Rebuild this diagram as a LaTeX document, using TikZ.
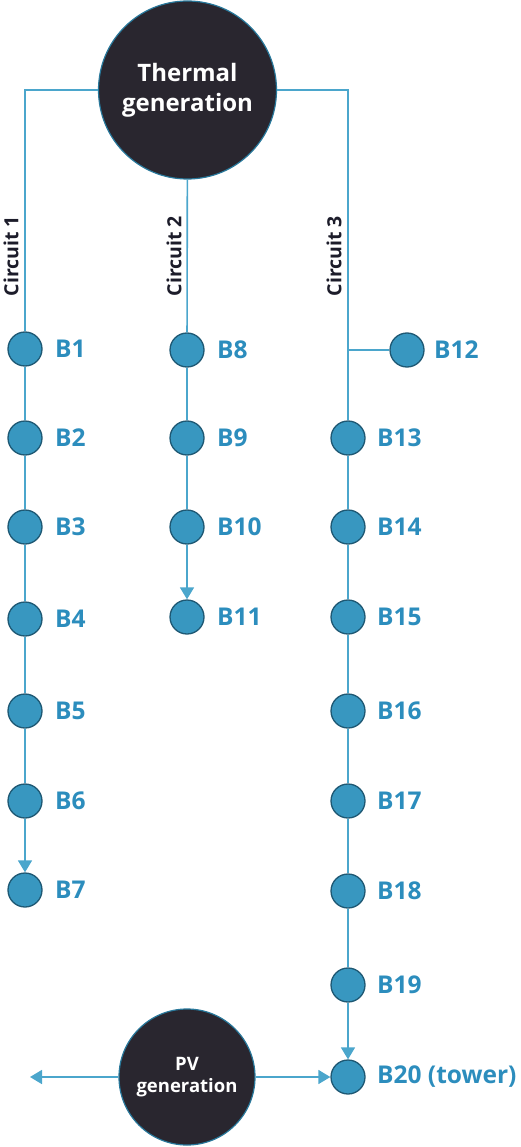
\documentclass[tikz,border=0pt]{standalone}
\usepackage{fontspec}
\setmainfont{Open Sans}
\usetikzlibrary{arrows.meta}
\definecolor{busfill}{RGB}{56,151,192}
\definecolor{busdraw}{RGB}{30,88,115}
\definecolor{wire}{RGB}{75,166,204}
\definecolor{bustext}{RGB}{44,141,189}
\definecolor{gen}{RGB}{41,38,47}
\definecolor{genedge}{RGB}{40,120,155}
\definecolor{cirtext}{RGB}{28,28,42}
\tikzset{
  bus/.style={circle,fill=busfill,draw=busdraw,line width=1.3pt,minimum size=34pt,inner sep=0pt},
  buslabel/.style={anchor=west,text=bustext,font=\fontsize{24.5}{26}\selectfont\bfseries,inner sep=0pt},
  genbox/.style={circle,fill=gen,draw=genedge,line width=1.2pt,inner sep=0pt,text=white,align=center},
  cirlabel/.style={rotate=90,text=cirtext,font=\fontsize{19.5}{21}\selectfont\bfseries,inner sep=0pt},
  wireline/.style={draw=wire,line width=1.6pt},
  arr/.style={wireline,-{Triangle[length=12pt,width=14pt]}},
}
\begin{document}
\begin{tikzpicture}[x=1pt,y=-1pt]
\useasboundingbox (0,0) rectangle (520,1147);
% generators
\node[genbox,minimum size=178pt,font=\fontsize{24}{30}\selectfont\bfseries] (th) at (187.5,90) {Thermal\\generation};
\node[genbox,minimum size=136pt,font=\fontsize{18.5}{22}\selectfont\bfseries] (pv) at (187,1077) {PV\\generation};
% circuit 1
\foreach \n/\y in {1/349,2/438,3/527,4/619,5/711,6/801,7/890}{
  \node[bus] (B\n) at (25,\y) {};
  \node[buslabel] (L\n) at (55,\y) {B\n};
}
% circuit 2
\foreach \n/\y in {8/350,9/438,10/527,11/617}{
  \node[bus] (B\n) at (187,\y) {};
  \node[buslabel] (L\n) at (217,\y) {B\n};
}
% circuit 3
\node[bus] (B12) at (407,350) {};
\node[buslabel] (L12) at (434,350) {B12};
\foreach \n/\y in {13/438,14/527,15/617,16/711,17/801,18/891,19/985}{
  \node[bus] (B\n) at (348,\y) {};
  \node[buslabel] (L\n) at (377,\y) {B\n};
}
\node[bus] (B20) at (348,1077) {};
\node[buslabel] (L20) at (377,1077) {B20 (tower)};
% circuit labels
\node[cirlabel] (C1) at (11,256) {Circuit 1};
\node[cirlabel] (C2) at (174,256) {Circuit 2};
\node[cirlabel] (C3) at (334,256) {Circuit 3};
% wires
\coordinate (j12) at (348,350);
\coordinate (pvl) at (30,1077);
\draw[wireline] (th.west) -| (B1);
\draw[wireline] (th) -- (B8);
\draw[wireline] (th.east) -| (B13);
\draw[wireline] (j12) -- (B12);
\foreach \a/\b in {1/2,2/3,3/4,4/5,5/6,8/9,9/10,13/14,14/15,15/16,16/17,17/18,18/19}{
  \draw[wireline] (B\a) -- (B\b);
}
\draw[arr] (B6) -- (B7);
\draw[arr] (B10) -- (B11);
\draw[arr] (B19) -- (B20);
\draw[arr] (pv) -- (B20);
\draw[arr] (pv) -- (pvl);
\end{tikzpicture}
\end{document}
